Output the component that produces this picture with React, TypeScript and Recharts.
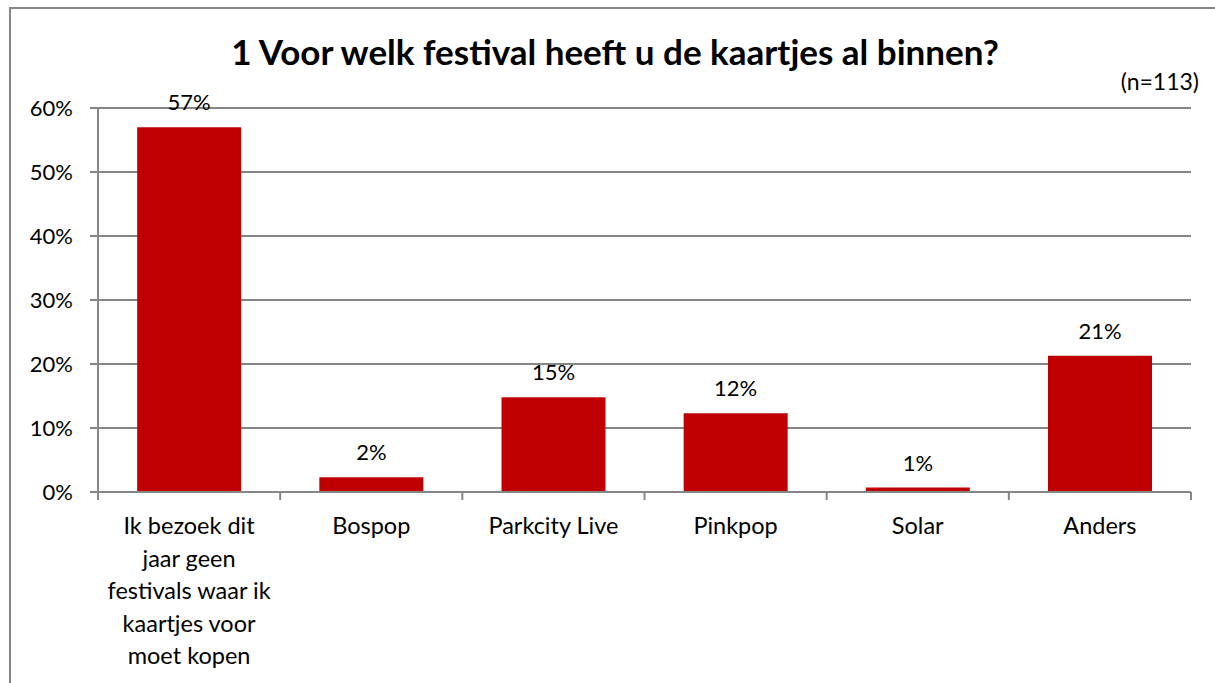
import React from "react";
import { BarChart, Bar, XAxis, YAxis, CartesianGrid, LabelList } from "recharts";

const categories = [
  "Ik bezoek dit jaar geen festivals waar ik kaartjes voor moet kopen",
  "Bospop",
  "Parkcity Live",
  "Pinkpop",
  "Solar",
  "Anders",
];
const shares = [57.0, 2.3, 14.8, 12.3, 0.7, 21.3];
const yTicks = [0, 10, 20, 30, 40, 50, 60];

const data = categories.map((name, i) => ({ name, value: shares[i] }));

const FONT = "Lato, 'Open Sans', sans-serif";
const GREY = "#868686";
const RED = "#C00000";

const W = 1215;
const H = 683;
const X_H = 30;
const M = { top: 108, right: 24, bottom: 191 - X_H, left: 0 };
const Y_W = 98;
const BAND = (W - M.left - M.right - Y_W) / categories.length;

function wrap(s: string, max: number) {
  const out: string[] = [];
  let cur = "";
  for (const w of s.split(" ")) {
    const next = cur ? cur + " " + w : w;
    if (next.length > max && cur) {
      out.push(cur);
      cur = w;
    } else cur = next;
  }
  if (cur) out.push(cur);
  return out;
}

// eslint-disable-next-line @typescript-eslint/no-explicit-any
function CatTick({ x, y, payload, index }: any) {
  const lines = wrap(payload.value, 17);
  const last = index === categories.length - 1;
  return (
    <g>
      <line x1={x - BAND / 2} x2={x - BAND / 2} y1={y - 8} y2={y} stroke={GREY} strokeWidth={2} />
      {last && <line x1={x + BAND / 2} x2={x + BAND / 2} y1={y - 8} y2={y} stroke={GREY} strokeWidth={2} />}
      <text x={x} y={y + 34} textAnchor="middle" fill="#000" fontSize={23.5} fontFamily={FONT}>
        {lines.map((l, i) => (
          <tspan key={i} x={x} dy={i === 0 ? 0 : 32.5}>
            {l}
          </tspan>
        ))}
      </text>
    </g>
  );
}

export default function App() {
  return (
    <div style={{ position: "absolute", left: 0, top: 0, width: W, height: H, background: "#fff", overflow: "hidden" }}>
      <div
        style={{
          position: "absolute",
          left: 9,
          top: 7,
          width: W + 20,
          height: H + 20,
          border: `2px solid ${GREY}`,
        }}
      />
      <div
        style={{
          position: "absolute",
          left: 0,
          width: 1230,
          top: 30,
          textAlign: "center",
          fontFamily: FONT,
          fontWeight: 700,
          fontSize: 35,
          color: "#000",
        }}
      >
        1 Voor welk festival heeft u de kaartjes al binnen?
      </div>
      <div
        style={{
          position: "absolute",
          right: 16,
          top: 67,
          fontFamily: FONT,
          fontSize: 23,
          color: "#000",
        }}
      >
        (n=113)
      </div>
      <div style={{ position: "absolute", left: 0, top: 0 }}>
        <BarChart width={W} height={H} data={data} margin={M} barCategoryGap="21.5%">
          <CartesianGrid vertical={false} stroke={GREY} strokeWidth={2} />
          <XAxis
            dataKey="name"
            height={X_H}
            interval={0}
            axisLine={{ stroke: GREY, strokeWidth: 2 }}
            tickLine={false}
            tickSize={8}
            tickMargin={0}
            tick={<CatTick />}
          />
          <YAxis
            width={Y_W}
            domain={[0, 60]}
            ticks={yTicks}
            interval={0}
            tickFormatter={(v) => `${v}%`}
            axisLine={{ stroke: GREY, strokeWidth: 2 }}
            tickLine={{ stroke: GREY, strokeWidth: 2 }}
            tickSize={8}
            tickMargin={17}
            tick={{ fill: "#000", fontSize: 22, fontFamily: FONT }}
          />
          <Bar dataKey="value" fill={RED} isAnimationActive={false}>
            <LabelList
              dataKey="value"
              position="top"
              offset={17}
              formatter={(v: any) => `${Math.round(Number(v))}%`}
              fill="#000"
              fontSize={22}
              fontFamily={FONT}
            />
          </Bar>
        </BarChart>
      </div>
    </div>
  );
}
